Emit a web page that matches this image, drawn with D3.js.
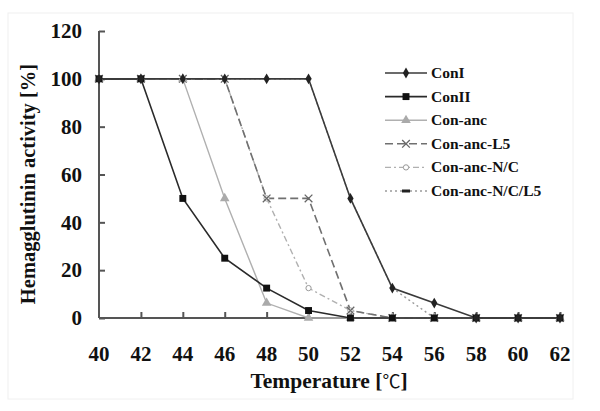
<!DOCTYPE html>
<html><head><meta charset="utf-8">
<script src="https://cdn.jsdelivr.net/npm/d3@7"></script>
<style>body{margin:0;background:#fff}svg{display:block}</style>
</head><body><svg id="c" width="600" height="411"></svg>
<script>
const temps = [40,42,44,46,48,50,52,54,56,58,60,62];
const conI      = [100,100,100,100,100,100,50,12.5,6.25,0,0,0];
const conII     = [100,100,50,25,12.5,3.125,0,0,0,0,0,0];
const conAnc    = [100,100,100,50,6.25,0,0,0,0,0,0,0];
const conAncL5  = [100,100,100,100,50,50,3.125,0,0,0,0,0];
const conAncNC  = [100,100,100,100,50,12.5,3.125,0,0,0,0,0];
const conAncNCL5= [100,100,100,100,100,100,50,12.5,0,0,0,0];
const xTicks = [40,42,44,46,48,50,52,54,56,58,60,62];
const yTicks = [0,20,40,60,80,100,120];
const seriesNames = ["ConI","ConII","Con-anc","Con-anc-L5","Con-anc-N/C","Con-anc-N/C/L5"];

const series = [
 {name:seriesNames[0], vals:conI, color:"#3a3a3a", w:1.6, dash:null, marker:"diamond", mfill:"#222", ms:34},
 {name:seriesNames[1], vals:conII, color:"#2a2a2a", w:1.6, dash:null, marker:"square", mfill:"#111", ms:48},
 {name:seriesNames[2], vals:conAnc, color:"#b0b0b0", w:1.4, dash:null, marker:"triangle", mfill:"#aaa", ms:40},
 {name:seriesNames[3], vals:conAncL5, color:"#707070", w:1.6, dash:"8,4", marker:"cross", mfill:"#666", ms:40},
 {name:seriesNames[4], vals:conAncNC, color:"#b0b0b0", w:1.4, dash:"6,3,2,3", marker:"circle", mfill:"#fff", ms:22},
 {name:seriesNames[5], vals:conAncNCL5, color:"#9a9a9a", w:1.4, dash:"2,3", marker:"dash", mfill:"#222", ms:0}
];

const svg = d3.select("#c");
svg.append("rect").attr("x",8).attr("y",13).attr("width",565).attr("height",386)
  .attr("fill","none").attr("stroke","#f0f0f0").attr("stroke-width",1);

const x = d3.scaleLinear().domain([40,62]).range([99,560]);
const y = d3.scaleLinear().domain([0,120]).range([318,31]);
const font = "'Liberation Serif','Times New Roman',serif";
const axisColor = "#555";

const g = svg.append("g");
const yAxis = d3.axisLeft(y).tickValues(yTicks).tickSize(-6).tickPadding(17).tickFormat(d3.format("d"));
const yg = g.append("g").attr("transform","translate(99,0)").call(yAxis);
const xAxis = d3.axisBottom(x).tickValues(xTicks.slice(1)).tickSize(-6).tickPadding(0).tickFormat("");
const xg = g.append("g").attr("transform","translate(0,318)").call(xAxis);
[yg,xg].forEach(a=>{
  a.select(".domain").attr("stroke",axisColor).attr("stroke-width",2);
  a.selectAll(".tick line").attr("stroke",axisColor).attr("stroke-width",2);
});
yg.select(".domain").attr("d","M0,31V318");
xg.select(".domain").attr("d","M99,0H560");
yg.selectAll(".tick text").attr("font-family",font).attr("font-weight","bold")
  .attr("font-size",21).attr("fill","#111").attr("x",-17);
g.append("g").selectAll("text").data(xTicks).join("text")
  .attr("x",d=>x(d)).attr("y",361).attr("text-anchor","middle")
  .attr("font-family",font).attr("font-weight","bold").attr("font-size",21).attr("fill","#111")
  .text(d=>d);

const xt = svg.append("text").attr("x",329).attr("y",388).attr("text-anchor","middle")
  .attr("font-family",font).attr("font-weight","bold").attr("font-size",21.5).attr("fill","#111");
xt.append("tspan").text("Temperature [");
xt.append("tspan").attr("font-weight","normal").attr("font-family","'Noto Sans CJK JP',sans-serif").attr("font-size",18).text("℃");
xt.append("tspan").text("]");
svg.append("text").attr("transform","translate(35,184) rotate(-90)").attr("text-anchor","middle")
  .attr("font-family",font).attr("font-weight","bold").attr("font-size",20.5).attr("fill","#111")
  .text("Hemagglutinin activity [%]");

function drawMarker(sel, s){
  if(s.marker==="diamond") sel.append("path").attr("d",d3.symbol(d3.symbolDiamond,s.ms)()).attr("fill",s.mfill);
  else if(s.marker==="square") sel.append("path").attr("d",d3.symbol(d3.symbolSquare,s.ms)()).attr("fill",s.mfill);
  else if(s.marker==="triangle") sel.append("path").attr("d",d3.symbol(d3.symbolTriangle,s.ms)()).attr("fill",s.mfill);
  else if(s.marker==="cross") sel.append("path").attr("d",d3.symbol(d3.symbolX,s.ms)()).attr("fill","none").attr("stroke",s.mfill).attr("stroke-width",1.3);
  else if(s.marker==="circle") sel.append("path").attr("d",d3.symbol(d3.symbolCircle,s.ms)()).attr("fill","#fff").attr("stroke","#999").attr("stroke-width",1);
  else if(s.marker==="dash") sel.append("rect").attr("x",-4).attr("y",-1.5).attr("width",8).attr("height",3).attr("fill",s.mfill);
}

const line = d3.line().x((d,i)=>x(temps[i])).y(d=>y(d));
const order = [5,4,3,2,1,0];
order.forEach(k=>{
  const s = series[k];
  svg.append("path").datum(s.vals).attr("d",line).attr("fill","none")
    .attr("stroke",s.color).attr("stroke-width",s.w).attr("stroke-dasharray",s.dash);
});
order.forEach(k=>{
  const s = series[k];
  if(s.marker==="dash") return;
  s.vals.forEach((v,i)=>{
    const m = svg.append("g").attr("transform",`translate(${x(temps[i])},${y(v)})`);
    drawMarker(m,s);
  });
});

const lg = svg.append("g");
series.forEach((s,i)=>{
  const yy = 73 + i*23.6;
  lg.append("line").attr("x1",385).attr("x2",427).attr("y1",yy).attr("y2",yy)
    .attr("stroke",s.color).attr("stroke-width",s.w).attr("stroke-dasharray",s.dash);
  const m = lg.append("g").attr("transform",`translate(406,${yy})`);
  drawMarker(m,s);
  lg.append("text").attr("x",431).attr("y",yy+5).attr("font-family",font).attr("font-weight","bold")
    .attr("font-size",15.5).attr("fill","#111").text(s.name);
});
</script></body></html>
